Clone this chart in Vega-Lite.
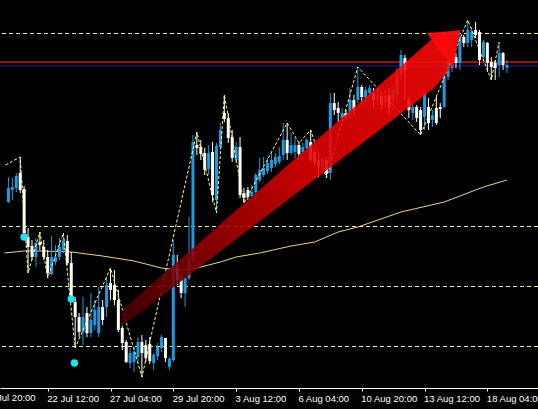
{
  "$schema": "https://vega.github.io/schema/vega-lite/v6.json",
  "width": 538,
  "height": 388,
  "autosize": {"type": "none"},
  "padding": {"left": 0, "top": 0, "right": 0, "bottom": 21},
  "background": "#000000",
  "config": {"view": {"stroke": null}},
  "resolve": {"axis": {"x": "independent", "y": "independent"}},
  "datasets": {
    "candles": [
      {"n":0,"o":186,"h":211,"l":185,"c":200},{"n":1,"o":198,"h":210,"l":188,"c":201},{"n":2,"o":200,"h":215,"l":196,"c":212},{"n":3,"o":215,"h":231,"l":195,"c":198},
      {"n":4,"o":199,"h":202,"l":151,"c":155},{"n":5,"o":151,"h":160,"l":115,"c":141},{"n":6,"o":142,"h":148,"l":128,"c":131},{"n":7,"o":131,"h":150,"l":121,"c":145},
      {"n":8,"o":146,"h":156,"l":138,"c":143},{"n":9,"o":141,"h":148,"l":128,"c":131},{"n":10,"o":131,"h":138,"l":110,"c":115},{"n":11,"o":114,"h":152,"l":113,"c":131},
      {"n":12,"o":126,"h":143,"l":123,"c":131},{"n":13,"o":131,"h":150,"l":128,"c":141},{"n":14,"o":138,"h":155,"l":135,"c":147},{"n":15,"o":147,"h":153,"l":123,"c":125},
      {"n":16,"o":125,"h":136,"l":88,"c":91},{"n":17,"o":86,"h":91,"l":40,"c":71},{"n":18,"o":71,"h":75,"l":51,"c":56},{"n":19,"o":56,"h":91,"l":43,"c":71},
      {"n":20,"o":75,"h":81,"l":51,"c":55},{"n":21,"o":55,"h":95,"l":51,"c":68},{"n":22,"o":63,"h":88,"l":58,"c":78},{"n":23,"o":55,"h":101,"l":51,"c":81},
      {"n":24,"o":81,"h":88,"l":63,"c":68},{"n":25,"o":81,"h":111,"l":71,"c":103},{"n":26,"o":105,"h":120,"l":88,"c":98},{"n":27,"o":103,"h":118,"l":83,"c":88},
      {"n":28,"o":88,"h":98,"l":56,"c":58},{"n":29,"o":60,"h":65,"l":38,"c":45},{"n":30,"o":46,"h":48,"l":25,"c":26},{"n":31,"o":25,"h":40,"l":20,"c":35},
      {"n":32,"o":26,"h":41,"l":16,"c":36},{"n":33,"o":31,"h":51,"l":26,"c":46},{"n":34,"o":46,"h":53,"l":11,"c":35},{"n":35,"o":43,"h":48,"l":26,"c":30},
      {"n":36,"o":44,"h":51,"l":24,"c":27},{"n":37,"o":25,"h":35,"l":18,"c":33},{"n":38,"o":32,"h":45,"l":28,"c":41},{"n":39,"o":40,"h":53,"l":36,"c":51},
      {"n":40,"o":50,"h":50,"l":26,"c":30},{"n":41,"o":21,"h":31,"l":18,"c":29},{"n":42,"o":28,"h":148,"l":26,"c":133},{"n":43,"o":121,"h":133,"l":103,"c":108},
      {"n":44,"o":108,"h":113,"l":90,"c":95},{"n":45,"o":95,"h":111,"l":81,"c":110},{"n":46,"o":110,"h":171,"l":108,"c":128},{"n":47,"o":128,"h":253,"l":126,"c":246},
      {"n":48,"o":243,"h":256,"l":233,"c":240},{"n":49,"o":241,"h":248,"l":228,"c":234},{"n":50,"o":235,"h":240,"l":213,"c":218},{"n":51,"o":219,"h":243,"l":213,"c":235},
      {"n":52,"o":236,"h":246,"l":186,"c":193},{"n":53,"o":188,"h":245,"l":175,"c":242},{"n":54,"o":241,"h":265,"l":238,"c":258},{"n":55,"o":275,"h":293,"l":266,"c":269},
      {"n":56,"o":270,"h":275,"l":245,"c":250},{"n":57,"o":251,"h":258,"l":226,"c":230},{"n":58,"o":228,"h":246,"l":225,"c":241},{"n":59,"o":241,"h":251,"l":190,"c":193},
      {"n":60,"o":195,"h":200,"l":185,"c":190},{"n":61,"o":198,"h":201,"l":188,"c":191},{"n":62,"o":192,"h":203,"l":191,"c":196},{"n":63,"o":196,"h":215,"l":188,"c":213},
      {"n":64,"o":208,"h":230,"l":206,"c":218},{"n":65,"o":213,"h":231,"l":211,"c":220},{"n":66,"o":217,"h":230,"l":214,"c":225},{"n":67,"o":220,"h":236,"l":216,"c":228},
      {"n":68,"o":224,"h":235,"l":221,"c":231},{"n":69,"o":226,"h":241,"l":224,"c":232},{"n":70,"o":233,"h":265,"l":228,"c":248},{"n":71,"o":248,"h":265,"l":228,"c":235},
      {"n":72,"o":235,"h":255,"l":233,"c":243},{"n":73,"o":236,"h":250,"l":230,"c":243},{"n":74,"o":243,"h":246,"l":228,"c":234},{"n":75,"o":236,"h":245,"l":233,"c":241},
      {"n":76,"o":240,"h":250,"l":238,"c":248},{"n":77,"o":246,"h":258,"l":225,"c":228},{"n":78,"o":236,"h":240,"l":222,"c":225},{"n":79,"o":228,"h":235,"l":211,"c":221},
      {"n":80,"o":221,"h":233,"l":218,"c":228},{"n":81,"o":228,"h":231,"l":210,"c":215},{"n":82,"o":215,"h":295,"l":208,"c":285},{"n":83,"o":285,"h":295,"l":273,"c":278},
      {"n":84,"o":280,"h":286,"l":266,"c":275},{"n":85,"o":270,"h":280,"l":266,"c":275},{"n":86,"o":275,"h":278,"l":268,"c":271},{"n":87,"o":273,"h":300,"l":270,"c":288},
      {"n":88,"o":288,"h":293,"l":273,"c":278},{"n":89,"o":288,"h":321,"l":285,"c":301},{"n":90,"o":301,"h":303,"l":283,"c":291},{"n":91,"o":290,"h":301,"l":286,"c":298},
      {"n":92,"o":295,"h":303,"l":290,"c":300},{"n":93,"o":295,"h":300,"l":280,"c":288},{"n":94,"o":288,"h":298,"l":283,"c":293},{"n":95,"o":292,"h":296,"l":278,"c":283},
      {"n":96,"o":286,"h":298,"l":280,"c":291},{"n":97,"o":293,"h":300,"l":273,"c":280},{"n":98,"o":288,"h":303,"l":278,"c":298},{"n":99,"o":293,"h":320,"l":288,"c":313},
      {"n":100,"o":313,"h":338,"l":308,"c":333},{"n":101,"o":330,"h":333,"l":288,"c":318},{"n":102,"o":288,"h":291,"l":270,"c":278},{"n":103,"o":275,"h":285,"l":268,"c":281},
      {"n":104,"o":281,"h":283,"l":266,"c":270},{"n":105,"o":278,"h":281,"l":253,"c":258},{"n":106,"o":271,"h":298,"l":258,"c":295},{"n":107,"o":281,"h":290,"l":258,"c":265},
      {"n":108,"o":268,"h":278,"l":261,"c":273},{"n":109,"o":280,"h":291,"l":263,"c":265},{"n":110,"o":281,"h":285,"l":270,"c":279},{"n":111,"o":281,"h":315,"l":280,"c":311},
      {"n":112,"o":311,"h":331,"l":308,"c":326},{"n":113,"o":320,"h":333,"l":316,"c":328},{"n":114,"o":331,"h":335,"l":320,"c":325},{"n":115,"o":325,"h":356,"l":318,"c":351},
      {"n":116,"o":351,"h":353,"l":341,"c":345},{"n":117,"o":345,"h":368,"l":341,"c":358},{"n":118,"o":348,"h":361,"l":341,"c":356},{"n":119,"o":358,"h":366,"l":350,"c":353},
      {"n":120,"o":356,"h":358,"l":323,"c":328},{"n":121,"o":331,"h":348,"l":328,"c":346},{"n":122,"o":345,"h":346,"l":316,"c":325},{"n":123,"o":326,"h":331,"l":308,"c":321},
      {"n":124,"o":325,"h":328,"l":308,"c":320},{"n":125,"o":323,"h":346,"l":311,"c":335},{"n":126,"o":335,"h":336,"l":318,"c":323},{"n":127,"o":320,"h":328,"l":315,"c":323}
    ],
    "ma": [
      {"n":-1,"v":135},{"n":4,"v":137},{"n":9,"v":137},{"n":16,"v":136},{"n":24,"v":132},{"n":32,"v":127},{"n":39,"v":120},{"n":43,"v":118},{"n":47,"v":119},{"n":54,"v":126},
      {"n":58,"v":131},{"n":64,"v":135},{"n":72,"v":142},{"n":78,"v":146},{"n":84,"v":156},{"n":89,"v":161},{"n":100,"v":176},{"n":111,"v":186},{"n":121,"v":201},{"n":127,"v":208}
    ],
    "zig": [
      {"n":-0.75,"v":223},{"n":3,"v":231},{"n":5,"v":115},{"n":8,"v":156},{"n":10,"v":110},{"n":14,"v":155},{"n":17,"v":40},{"n":26,"v":120},{"n":34,"v":11},
      {"n":48,"v":256},{"n":53,"v":175},{"n":55,"v":293},{"n":60,"v":185},{"n":71,"v":265},{"n":74,"v":245},{"n":77,"v":258},{"n":81,"v":210},{"n":89,"v":321},
      {"n":105,"v":253},{"n":117,"v":368},{"n":123,"v":308},{"n":125,"v":346}
    ],
    "dots": [{"n":4,"v":151},{"n":16,"v":89},{"n":16.8,"v":25}],
    "dashed": [{"v":355},{"v":162},{"v":102},{"v":42}],
    "solid": [{"v":326,"k":"red"},{"v":322,"k":"blue"}],
    "shaft": [{"n":28.75,"top":77,"bot":61},{"n":108.5,"top":351,"bot":300},{"n":112.25,"top":351,"bot":318}],
    "head": [{"n":106.75,"top":355,"bot":354},{"n":113.25,"top":357,"bot":320},{"n":115,"top":358,"bot":357}],
    "firstlabel": [{"n":-6,"label":"17 Jul 20:00"}]
  },
  "layer": [
    {
      "data": {"name": "dashed"},
      "mark": {"type": "rule", "color": "#f5f585", "strokeWidth": 1, "strokeDash": [4, 3], "yOffset": 0.5},
      "encoding": {"y": {"field": "v", "type": "quantitative", "scale": {"domain": [0, 388], "nice": false, "zero": false}, "axis": null}}
    },
    {
      "data": {"name": "solid"},
      "mark": {"type": "rule", "strokeWidth": 1.5},
      "encoding": {
        "y": {"field": "v", "type": "quantitative", "scale": {"domain": [0, 388], "nice": false, "zero": false}, "axis": null},
        "color": {"field": "k", "type": "nominal", "scale": {"domain": ["red", "blue"], "range": ["#c41c1c", "#16166e"]}, "legend": null}
      }
    },
    {
      "data": {"name": "ma"},
      "mark": {"type": "line", "color": "#ecd484", "strokeWidth": 1},
      "encoding": {
        "x": {"field": "n", "type": "quantitative", "scale": {"domain": [-0.875, 133.625], "nice": false, "zero": false}, "axis": null},
        "y": {"field": "v", "type": "quantitative", "scale": {"domain": [0, 388], "nice": false, "zero": false}, "axis": null}
      }
    },
    {
      "data": {"name": "candles"},
      "mark": {"type": "rule", "strokeWidth": 1},
      "encoding": {
        "x": {"field": "n", "type": "quantitative", "scale": {"domain": [-0.875, 133.625], "nice": false, "zero": false},
          "axis": {"orient": "bottom", "title": null, "grid": false, "values": [10, 26, 42, 58, 74, 90, 106, 122],
            "labelExpr": "['17 Jul 20:00','22 Jul 12:00','27 Jul 04:00','29 Jul 20:00','3 Aug 12:00','6 Aug 04:00','10 Aug 20:00','13 Aug 12:00','18 Aug 04:00'][(datum.value + 6) / 16]",
            "domainColor": "#ffffff", "tickColor": "#ffffff", "labelColor": "#ffffff", "tickSize": 3, "labelPadding": 2, "labelOffset": -1,
            "labelAlign": "left", "labelBaseline": "top", "labelFont": "Liberation Sans", "labelFontSize": 9.5,
            "labelOverlap": false, "labelFlush": false, "labelBound": false}},
        "y": {"field": "l", "type": "quantitative", "scale": {"domain": [0, 388], "nice": false, "zero": false}, "axis": null},
        "y2": {"field": "h"},
        "color": {"condition": {"test": "datum.c >= datum.o", "value": "#1e9be0"}, "value": "#ffffff"}
      }
    },
    {
      "data": {"name": "candles"},
      "mark": {"type": "bar", "size": 3},
      "encoding": {
        "x": {"field": "n", "type": "quantitative", "scale": {"domain": [-0.875, 133.625], "nice": false, "zero": false}, "axis": null},
        "y": {"field": "o", "type": "quantitative", "scale": {"domain": [0, 388], "nice": false, "zero": false}, "axis": null},
        "y2": {"field": "c"},
        "color": {"condition": {"test": "datum.c >= datum.o", "value": "#1e9be0"}, "value": "#ffffff"}
      }
    },
    {
      "data": {"name": "zig"},
      "mark": {"type": "line", "color": "#ffff80", "strokeWidth": 1, "strokeDash": [3, 2]},
      "encoding": {
        "x": {"field": "n", "type": "quantitative", "scale": {"domain": [-0.875, 133.625], "nice": false, "zero": false}, "axis": null},
        "y": {"field": "v", "type": "quantitative", "scale": {"domain": [0, 388], "nice": false, "zero": false}, "axis": null}
      }
    },
    {
      "data": {"name": "dots"},
      "mark": {"type": "circle", "color": "#1fe3ee", "opacity": 1, "size": 55},
      "encoding": {
        "x": {"field": "n", "type": "quantitative", "scale": {"domain": [-0.875, 133.625], "nice": false, "zero": false}, "axis": null},
        "y": {"field": "v", "type": "quantitative", "scale": {"domain": [0, 388], "nice": false, "zero": false}, "axis": null}
      }
    },
    {
      "data": {"name": "shaft"},
      "mark": {"type": "area", "opacity": 0.88,
        "color": {"gradient": "linear", "x1": 0, "y1": 1, "x2": 1, "y2": 0,
          "stops": [{"offset": 0, "color": "#400000"}, {"offset": 0.25, "color": "#900000"}, {"offset": 0.55, "color": "#e00000"}, {"offset": 1, "color": "#ff0a0a"}]}},
      "encoding": {
        "x": {"field": "n", "type": "quantitative", "scale": {"domain": [-0.875, 133.625], "nice": false, "zero": false}, "axis": null},
        "y": {"field": "top", "type": "quantitative", "scale": {"domain": [0, 388], "nice": false, "zero": false}, "axis": null},
        "y2": {"field": "bot"}
      }
    },
    {
      "data": {"name": "head"},
      "mark": {"type": "area", "color": "#ff0a0a", "opacity": 0.95},
      "encoding": {
        "x": {"field": "n", "type": "quantitative", "scale": {"domain": [-0.875, 133.625], "nice": false, "zero": false}, "axis": null},
        "y": {"field": "top", "type": "quantitative", "scale": {"domain": [0, 388], "nice": false, "zero": false}, "axis": null},
        "y2": {"field": "bot"}
      }
    },
    {
      "data": {"name": "firstlabel"},
      "mark": {"type": "text", "align": "left", "baseline": "top", "color": "#ffffff", "font": "Liberation Sans", "fontSize": 9.5, "dx": -1},
      "encoding": {
        "x": {"field": "n", "type": "quantitative", "scale": {"domain": [-0.875, 133.625], "nice": false, "zero": false}, "axis": null},
        "y": {"datum": -5, "type": "quantitative", "scale": {"domain": [0, 388], "nice": false, "zero": false}, "axis": null},
        "text": {"field": "label"}
      }
    }
  ]
}
